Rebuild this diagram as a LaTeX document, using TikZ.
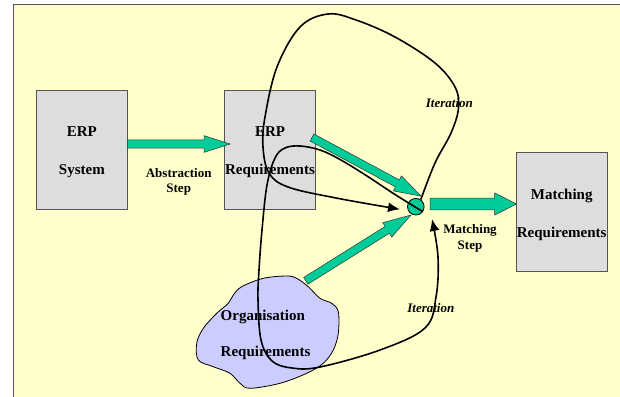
\documentclass[tikz,border=0pt]{standalone}
\usepackage{fontspec}
\setmainfont{Liberation Serif}
\usetikzlibrary{arrows.meta,calc}
\definecolor{bgyellow}{HTML}{FFFFCC}
\definecolor{boxgray}{HTML}{DDDDDD}
\definecolor{boxline}{HTML}{555555}
\definecolor{agreen}{HTML}{00CC99}
\definecolor{cloudblue}{HTML}{CCCCFF}
\tikzset{
  box/.style={draw=boxline, line width=1pt, fill=boxgray, minimum width=91pt, minimum height=119pt,
    inner sep=0pt},
  boxtext/.style={align=center, inner sep=0pt, font=\fontsize{15}{37.5}\selectfont\bfseries},
  steplabel/.style={align=center, inner sep=0pt, font=\fontsize{13}{15.8}\selectfont\bfseries},
  iterlabel/.style={inner sep=0pt, font=\fontsize{13}{15}\selectfont\bfseries\itshape},
  garrow/.style={fill=agreen, draw=black!80, line width=0.5pt, line join=miter},
  iter/.style={draw=black, line width=1.6pt, -{Latex[length=12pt,width=10pt]}},
  cloudshape/.style={fill=cloudblue, draw=black, line width=0.8pt},
}
\newcommand\blockarrow[5]{%
  \filldraw[garrow] let \p1=(#1), \p2=(#2), \n1={atan2(\y2-\y1,\x2-\x1)}, \n2={veclen(\x2-\x1,\y2-\y1)} in
  [shift={(\p1)}, rotate=\n1]
  (0pt,-#3) -- ({\n2*1pt-#5},-#3) -- ({\n2*1pt-#5},-#4) -- ({\n2*1pt},0pt)
  -- ({\n2*1pt-#5},#4) -- ({\n2*1pt-#5},#3) -- (0pt,#3) -- cycle;}
\begin{document}
\begin{tikzpicture}[x=1pt,y=-1pt]
\useasboundingbox (0,0) rectangle (620,396);
\fill[white] (0,0) rectangle (620,396);
\filldraw[fill=bgyellow, draw=boxline, line width=1pt] (13.4,4.7) rectangle (640,420);

% boxes
\node[box] (erpsys) at (81.9,149.7) {};
\node[box] (erpreq) at (270,149.7) {};
\node[box] (matchreq) at (561.7,212.3) {};
\node[boxtext] (erpsyst) at ($(erpsys)+(0,2.5)$) {ERP\\System};
\node[boxtext] (erpreqt) at ($(erpreq)+(0,2.5)$) {ERP\\Requirements};
\node[boxtext] (matchreqt) at ($(matchreq)+(0,2.5)$) {Matching\\Requirements};

% cloud
\filldraw[cloudshape] plot[smooth cycle, tension=0.55] coordinates {
 (233.3,295) (241.7,286.7) (263.3,278.3) (286.7,276) (296.7,278.3) (308.3,286.7)
 (320,298.3) (331.7,303.3) (338.3,311.7) (338.3,333.3) (333.3,350) (323.3,363.3)
 (306.7,373.3) (280,383.3) (250,388.3) (240,383.3) (230,373.3) (213.3,366.7)
 (198.3,360) (196.7,343.3) (203.3,328.3) (216.7,313.3) (228.3,303.3)};
\node[anchor=west, align=left, inner sep=0pt, font=\fontsize{15}{36.7}\selectfont\bfseries]
  (org) at (220.5,335) {Organisation\\Requirements};

% matching point
\node[circle, fill=agreen, draw=black, line width=0.8pt, minimum size=16.6pt, inner sep=0pt] (m) at (415.8,206.7) {};

% block arrows
\coordinate (a1s) at (127.3,144);
\coordinate (a1e) at (230,144);
\coordinate (a2s) at (312,137.5);
\coordinate (a2e) at (421.2,196.2);
\coordinate (a3s) at (305.8,280.8);
\coordinate (a3e) at (411,215);
\coordinate (a4s) at (430,204);
\coordinate (a4e) at (516.5,204);
\blockarrow{a1s}{a1e}{4.2pt}{8.4pt}{26pt}
\blockarrow{a2s}{a2e}{4pt}{8.5pt}{27pt}
\blockarrow{a3s}{a3e}{4pt}{8.5pt}{28pt}
\blockarrow{a4s}{a4e}{5.8pt}{11.2pt}{22pt}

% labels
\node[steplabel] (abs) at (178.7,181.8) {Abstraction\\Step};
\node[steplabel] (mstep) at (470,238) {Matching\\Step};
\node[iterlabel] (it1) at (449.4,103.5) {Iteration};
\node[iterlabel] (it2) at (430.8,308.2) {Iteration};

% iteration loops
\coordinate (c1end) at (400,209.3);
\coordinate (c2end) at (432,219);
\draw[iter] plot[smooth, tension=0.6] coordinates {
 (m.55) (435,163) (451,133) (458.5,108) (455,87) (435,63) (395,37) (356,20) (328,14)
 (300,27) (277,67) (265,117) (263,147) (269,173) (288,187) (336,198) (c1end)};
\draw[iter] plot[smooth, tension=0.6] coordinates {
 (m.-35) (395,194.5) (367,176) (340,159.5) (320,150) (300,146) (285,148) (275,158)
 (267,185) (262,230) (259,270) (258,300) (261,340) (272,361) (292,368) (320,367)
 (380,350) (425,328) (436,297) (438,257) (c2end)};
\end{tikzpicture}
\end{document}
